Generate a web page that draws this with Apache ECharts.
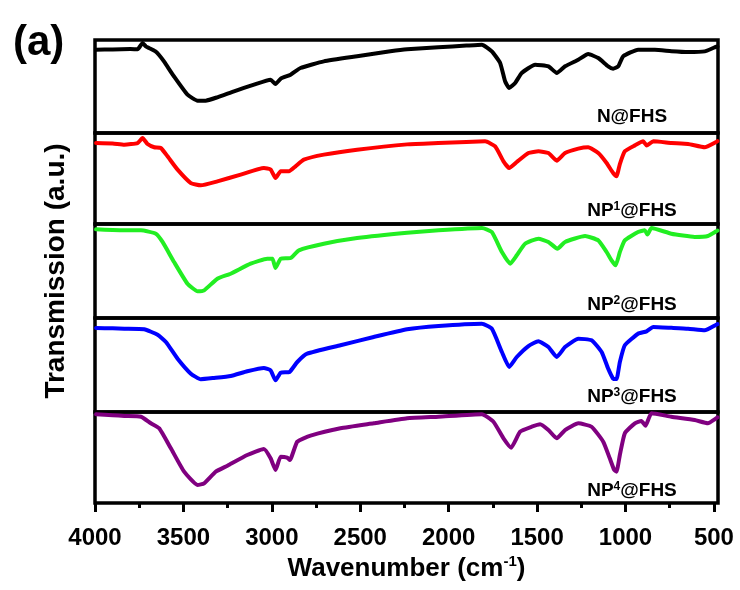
<!DOCTYPE html>
<html>
<head>
<meta charset="utf-8">
<script src="https://cdn.jsdelivr.net/npm/echarts@6/dist/echarts.min.js"></script>
<style>
  html, body { margin: 0; padding: 0; background: #fff; }
  #chart { width: 740px; height: 590px; }
</style>
</head>
<body>
<div id="chart"></div>
<script>
// FTIR transmission spectra, [wavenumber (cm-1), transmission (a.u.)]
const nFHS = [
  [3995, 89.6], [3900, 89.8], [3800, 90.2], [3759, 90], [3731, 96.8], [3712, 93], [3695, 91.4],
  [3660, 88], [3639, 84.2], [3610, 77], [3554, 61], [3477, 41.2], [3420, 34.8], [3374, 34.8],
  [3308, 38.4], [3214, 44.8], [3101, 52], [3007, 57.3], [2979, 52.7], [2950, 58.4], [2894, 62.7],
  [2838, 69.9], [2706, 77], [2518, 82.5], [2330, 87.8], [2235, 90], [2059, 92.1], [1900, 94],
  [1812, 95], [1756, 87.8], [1709, 75.3], [1681, 55.6], [1658, 48.4], [1624, 53.8], [1587, 64.5],
  [1511, 73.5], [1436, 71.7], [1389, 64.5], [1342, 71.7], [1267, 78.8], [1211, 84.9], [1154, 80.6],
  [1098, 71.7], [1070, 69.1], [1041, 71.7], [1013, 82.5], [929, 89.6], [834, 89.6], [740, 88],
  [646, 87.1], [552, 87.8], [496, 92.1], [480, 93]
];
const np1FHS = [
  [3994, 89], [3900, 88.5], [3834, 87.2], [3759, 89], [3731, 94.5], [3703, 87.9], [3665, 84.3],
  [3628, 83.5], [3590, 74.4], [3533, 59.7], [3458, 45], [3402, 42.5], [3308, 46.9], [3176, 54.2],
  [3045, 61.5], [3007, 60], [2979, 50.5], [2950, 57.9], [2903, 57.9], [2866, 63.4], [2819, 70.7],
  [2706, 76.2], [2518, 81.7], [2235, 87.5], [2059, 89], [1900, 90.2], [1794, 90.8], [1737, 85.3],
  [1690, 68.9], [1658, 61.5], [1615, 68.1], [1549, 78], [1492, 79.9], [1436, 78], [1389, 69.6],
  [1342, 78], [1267, 82.8], [1211, 84.3], [1154, 78], [1107, 67], [1070, 56], [1051, 52.4],
  [1032, 65.9], [1004, 79.9], [947, 86.4], [900, 90.8], [881, 86.4], [843, 90.8], [740, 89],
  [646, 87.9], [552, 84.3], [487, 90.1], [480, 91]
];
const np2FHS = [
  [3994, 94.3], [3900, 93.6], [3834, 93.3], [3740, 93.3], [3656, 89.7], [3618, 80.9], [3553, 59.6],
  [3477, 36.5], [3420, 28.4], [3383, 29.4], [3308, 41.8], [3233, 47.1], [3120, 57.8], [3026, 63.1],
  [2997, 63], [2979, 53.2], [2950, 63.1], [2894, 63.8], [2847, 72], [2706, 79], [2518, 85.1],
  [2235, 90.8], [2057, 93.3], [1812, 95.7], [1756, 91.5], [1699, 70.2], [1652, 57.8], [1615, 66.7],
  [1568, 79], [1493, 84.4], [1436, 80.9], [1385, 73.7], [1342, 80.9], [1229, 87.2], [1154, 82.6],
  [1107, 70.2], [1079, 61.3], [1056, 56], [1032, 70.2], [1004, 82.6], [929, 91.5], [891, 93.3],
  [876, 88.7], [853, 95.7], [741, 89.7], [609, 86.2], [534, 87.2], [487, 92.2], [480, 93]
];
const np3FHS = [
  [3994, 89.4], [3900, 89], [3834, 88.6], [3722, 88], [3646, 82.2], [3599, 74.5], [3533, 56.7],
  [3458, 40.8], [3402, 34.8], [3327, 36.2], [3233, 38.3], [3139, 43.3], [3045, 46.8], [3007, 44.3],
  [2979, 33.7], [2950, 41.8], [2900, 42.6], [2856, 53.2], [2800, 62], [2612, 71], [2424, 79.8],
  [2235, 88], [2057, 91.5], [1812, 93.9], [1756, 88.6], [1699, 63.8], [1658, 47.9], [1615, 58.5],
  [1549, 70.2], [1493, 75.2], [1436, 69.1], [1389, 58.5], [1342, 69.1], [1267, 78], [1192, 76.3],
  [1135, 63.8], [1098, 46.1], [1070, 35.5], [1051, 35], [1032, 53.2], [1004, 71], [929, 83.3],
  [881, 85.8], [843, 90.4], [740, 89.5], [646, 88.6], [552, 86.9], [487, 92.9], [480, 93.5]
];
const np4FHS = [
  [3994, 97.5], [3900, 96.5], [3834, 95.6], [3740, 94.8], [3684, 87.6], [3637, 82.1], [3571, 60.1],
  [3496, 34.4], [3420, 19.8], [3383, 21.6], [3317, 34.4], [3251, 41], [3139, 52.7], [3045, 59.3],
  [3007, 49.1], [2979, 36.3], [2950, 50.9], [2913, 49.8], [2898, 47.3], [2856, 67.4], [2781, 74],
  [2612, 82.1], [2424, 87.6], [2235, 93.1], [2057, 94.8], [1812, 97.5], [1747, 89.3], [1690, 71.1],
  [1647, 60.8], [1596, 78.4], [1530, 83.8], [1483, 86.5], [1436, 80.2], [1389, 71.1], [1342, 80.2],
  [1267, 87.6], [1192, 83.8], [1126, 67.4], [1089, 49.1], [1064, 36.3], [1051, 34.4], [1032, 52.7],
  [1004, 76.6], [947, 87.6], [910, 90.1], [887, 84.9], [853, 98.6], [741, 94.8], [609, 91.2],
  [534, 87.6], [487, 93.1], [480, 94]
];

const samples = ['N@FHS', 'NP1@FHS', 'NP2@FHS', 'NP3@FHS', 'NP4@FHS'];
const spectra = [nFHS, np1FHS, np2FHS, np3FHS, np4FHS];
const lineColors = ['#000000', '#ff0000', '#22ee22', '#0000ff', '#800080'];
const majorTicks = [500, 1000, 1500, 2000, 2500, 3000, 3500, 4000];
const minorTicks = [750, 1250, 1750, 2250, 2750, 3250, 3750];

// panel geometry (px)
const plotLeft = 95, plotRight = 22;
const panelTops = [40, 133, 224, 318, 412];
const panelHeights = [93, 91, 94, 94, 91];
const labelCenters = [117, 211, 305, 397, 491];
const FONT = '"Liberation Sans", Arial, sans-serif';
const X_MIN = 477, X_MAX = 4000;

const grids = [], xAxes = [], yAxes = [], series = [];
spectra.forEach((data, i) => {
  grids.push({
    left: plotLeft, right: plotRight, top: panelTops[i], height: panelHeights[i],
    show: true, borderColor: '#000', borderWidth: 3.5, backgroundColor: 'transparent',
    outerBoundsMode: 'none', containLabel: false
  });
  const bottom = i === spectra.length - 1;
  xAxes.push({
    gridIndex: i, type: 'value', inverse: true, min: X_MIN, max: X_MAX, position: 'bottom',
    show: bottom,
    axisLine: { show: false },
    splitLine: { show: false },
    axisTick: { show: bottom, customValues: majorTicks, length: 9, lineStyle: { color: '#000', width: 3 } },
    axisLabel: {
      show: bottom, customValues: majorTicks, margin: 23, color: '#000',
      fontSize: 24, fontWeight: 'bold', fontFamily: FONT,
      formatter: (v) => String(Math.round(v))
    },
    name: bottom ? '{b|Wavenumber (cm}{s|-1}{b|)}' : '',
    nameLocation: 'middle', nameGap: 51,
    nameTextStyle: {
      rich: {
        b: { fontSize: 26, fontWeight: 'bold', fontFamily: FONT, color: '#000', lineHeight: 30 },
        s: { fontSize: 15, fontWeight: 'bold', fontFamily: FONT, color: '#000', verticalAlign: 'top', lineHeight: 30 }
      }
    }
  });
  yAxes.push({ gridIndex: i, type: 'value', min: 0, max: 100, show: false });
  series.push({
    type: 'line', name: samples[i], xAxisIndex: i, yAxisIndex: i, data: data,
    showSymbol: false, symbol: 'none', smooth: 0.15, clip: true,
    lineStyle: { color: lineColors[i], width: 4, join: 'round', cap: 'round' },
    z: 3
  });
});
// minor ticks on the bottom panel
xAxes.push({
  gridIndex: spectra.length - 1, type: 'value', inverse: true, min: X_MIN, max: X_MAX, position: 'bottom',
  axisLine: { show: false }, splitLine: { show: false }, axisLabel: { show: false },
  axisTick: { show: true, customValues: minorTicks, length: 5, lineStyle: { color: '#000', width: 3 } }
});

function sampleLabel(name) {
  const m = name.match(/^(NP)(\d)(@FHS)$/);
  return m ? `{b|${m[1]}}{s|${m[2]}}{b|${m[3]}}` : `{b|${name}}`;
}

const graphics = [
  {
    type: 'text', left: 13, top: 22,
    style: { text: '(a)', font: `bold 42px ${FONT}`, fill: '#000' }
  },
  {
    type: 'text', x: 56, y: 271, rotation: Math.PI / 2,
    style: {
      text: 'Transmission (a.u.)', font: `bold 28px ${FONT}`, fill: '#000',
      align: 'center', verticalAlign: 'middle'
    }
  }
];
samples.forEach((name, i) => {
  graphics.push({
    type: 'text', x: 632, y: labelCenters[i], z: 10,
    style: {
      text: sampleLabel(name), align: 'center', verticalAlign: 'middle',
      rich: {
        b: { fontSize: 19, fontWeight: 'bold', fontFamily: FONT, fill: '#000', lineHeight: 20 },
        s: { fontSize: 12, fontWeight: 'bold', fontFamily: FONT, fill: '#000', verticalAlign: 'top', lineHeight: 20 }
      }
    }
  });
});

const chart = echarts.init(document.getElementById('chart'), null, { renderer: 'canvas' });
chart.setOption({
  backgroundColor: '#ffffff',
  animation: false,
  grid: grids,
  xAxis: xAxes,
  yAxis: yAxes,
  series: series,
  graphic: graphics
});
</script>
</body>
</html>
